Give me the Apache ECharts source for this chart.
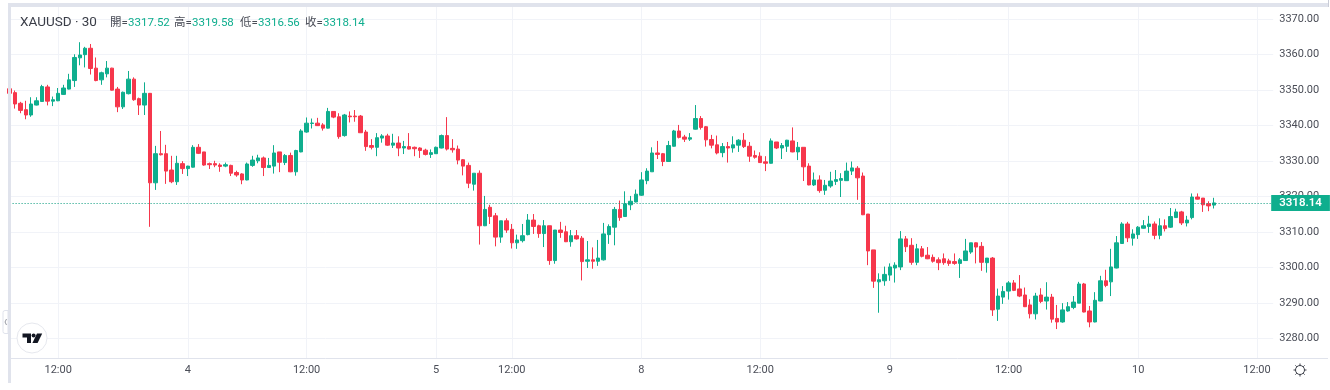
<!DOCTYPE html>
<html><head><meta charset="utf-8">
<style>html,body{margin:0;padding:0;background:#fff}#c{width:1330px;height:390px}</style>
<script src="https://cdn.jsdelivr.net/npm/echarts@6/dist/echarts.min.js"></script>
</head><body><div id="c"></div>
<script>
const opens = [
3350.3,3349.2,3346.2,3344.4,3342.9,3345.7,3346.7,3350.8,3346.8,3346.9,
3348.7,3350.2,3352.6,3359.0,3359.9,3361.7,3356.1,3352.8,3354.5,3356.1,
3350.2,3345.2,3348.9,3353.0,3347.5,3345.7,3349.0,3323.8,3332.0,3332.0,
3327.4,3324.1,3329.2,3327.8,3328.2,3333.8,3332.5,3329.2,3329.2,3328.8,
3328.5,3328.7,3326.7,3326.3,3324.6,3328.7,3330.0,3330.8,3328.1,3328.5,
3332.5,3329.5,3331.5,3326.9,3332.5,3338.1,3340.5,3340.6,3340.1,3339.2,
3343.9,3342.4,3337.1,3342.6,3342.6,3342.6,3338.1,3334.3,3333.8,3336.4,
3337.0,3334.4,3335.0,3333.6,3334.0,3333.8,3333.6,3333.0,3331.8,3332.0,
3333.6,3337.1,3333.5,3333.3,3330.3,3328.7,3323.4,3326.5,3311.7,3316.9,
3314.5,3308.5,3313.1,3310.7,3306.9,3307.5,3309.2,3313.3,3311.7,3309.5,
3311.7,3301.9,3310.5,3310.0,3307.2,3308.9,3308.2,3301.7,3302.1,3301.7,
3302.1,3309.2,3311.3,3316.3,3314.3,3317.6,3318.4,3320.3,3324.4,3326.9,
3332.2,3332.0,3329.8,3334.1,3338.4,3336.7,3336.1,3338.9,3341.9,3339.6,
3336.0,3334.5,3332.3,3334.0,3333.6,3334.4,3335.8,3334.1,3331.5,3331.3,
3329.7,3329.3,3335.3,3333.6,3334.1,3335.6,3332.5,3333.8,3328.5,3323.2,
3324.6,3321.7,3322.9,3324.2,3324.5,3324.4,3327.1,3327.9,3325.7,3315.0,
3304.9,3295.9,3296.2,3297.8,3299.8,3300.1,3308.0,3306.2,3301.4,3305.2,
3303.4,3302.8,3302.1,3302.4,3301.8,3301.6,3301.1,3301.9,3304.3,3306.9,
3305.9,3301.3,3302.6,3288.2,3291.6,3293.3,3295.6,3293.9,3292.2,3289.4,
3286.9,3292.2,3290.5,3291.6,3285.6,3284.6,3287.7,3288.7,3289.9,3295.3,
3287.7,3284.6,3290.5,3296.2,3295.9,3299.8,3306.7,3312.2,3308.2,3309.2,
3311.0,3311.5,3312.2,3309.0,3311.7,3311.3,3314.0,3315.6,3312.5,3314.0,
3319.8,3319.5,3317.9,3317.52];
const closes = [
3349.0,3346.0,3344.2,3342.9,3346.0,3346.9,3350.9,3346.8,3347.2,3349.0,
3350.5,3352.8,3359.1,3359.8,3361.7,3356.0,3352.6,3354.8,3356.1,3349.9,
3345.2,3349.3,3353.0,3347.2,3345.7,3349.0,3323.8,3332.0,3331.7,3327.1,
3324.1,3329.3,3327.8,3328.5,3333.8,3332.1,3328.8,3328.9,3328.8,3328.4,
3328.9,3326.5,3326.0,3324.6,3329.1,3330.2,3330.8,3328.1,3328.7,3332.2,
3329.6,3331.5,3326.9,3332.9,3338.4,3340.6,3340.65,3339.9,3339.2,3343.9,
3342.3,3336.8,3342.9,3342.4,3342.4,3337.9,3334.0,3333.8,3336.5,3337.0,
3334.4,3335.0,3333.6,3334.0,3333.3,3333.4,3332.9,3331.8,3332.3,3333.8,
3337.1,3333.3,3333.1,3330.2,3328.5,3323.7,3326.5,3311.7,3316.3,3314.3,
3308.5,3313.1,3310.5,3306.9,3307.7,3308.9,3313.3,3311.5,3309.5,3311.7,
3301.9,3310.5,3309.8,3307.2,3308.9,3308.0,3301.6,3302.1,3301.7,3302.6,
3309.4,3311.5,3316.3,3314.0,3317.9,3318.6,3320.6,3324.6,3327.1,3332.2,
3331.8,3329.8,3334.3,3338.4,3336.6,3336.1,3336.5,3341.9,3339.4,3335.9,
3334.4,3332.2,3334.0,3333.6,3334.5,3335.8,3334.0,3331.3,3331.0,3329.5,
3329.3,3335.6,3333.6,3334.3,3335.8,3332.5,3333.8,3328.3,3323.2,3324.6,
3321.6,3323.1,3324.3,3324.7,3325.0,3327.1,3328.0,3325.2,3314.8,3304.6,
3296.1,3296.5,3298.0,3300.1,3300.6,3308.0,3305.8,3301.4,3305.2,3303.1,
3302.4,3301.7,3301.3,3301.3,3301.1,3301.1,3302.1,3304.6,3306.9,3305.7,
3301.4,3302.6,3288.0,3291.9,3293.2,3295.6,3293.5,3291.9,3288.9,3286.9,
3291.9,3290.4,3291.6,3285.4,3284.6,3288.0,3288.9,3290.2,3295.3,3287.4,
3284.6,3290.7,3296.2,3294.9,3300.1,3306.9,3312.2,3308.3,3309.4,3311.3,
3311.7,3312.2,3309.0,3311.7,3310.9,3314.3,3315.6,3312.5,3313.3,3319.8,
3319.2,3317.6,3317.3,3318.14];
const lows = [
3348.9,3344.7,3343.4,3341.7,3342.4,3345.6,3346.6,3345.6,3345.4,3346.8,
3348.6,3350.1,3350.8,3356.9,3356.3,3354.3,3352.4,3351.4,3353.5,3349.8,
3343.7,3344.6,3348.7,3346.9,3342.9,3342.9,3311.4,3321.8,3331.5,3323.5,
3323.7,3323.2,3326.3,3325.7,3328.1,3331.9,3328.6,3327.7,3328.2,3326.9,
3328.2,3325.7,3325.5,3323.4,3324.5,3328.3,3329.3,3325.7,3328.0,3326.4,
3326.8,3328.8,3326.8,3325.8,3332.4,3337.9,3339.1,3339.8,3338.5,3339.1,
3342.0,3336.2,3336.8,3340.8,3341.0,3337.9,3332.8,3333.2,3331.3,3335.1,
3334.2,3333.6,3331.3,3331.9,3333.2,3331.3,3330.8,3331.5,3330.8,3332.0,
3333.5,3332.9,3332.3,3329.0,3325.9,3322.3,3321.6,3306.4,3311.6,3312.2,
3305.9,3306.9,3309.7,3305.3,3305.2,3307.0,3309.0,3309.4,3308.3,3305.7,
3300.7,3301.0,3308.3,3307.1,3305.8,3307.8,3296.3,3299.8,3299.6,3300.4,
3301.9,3306.6,3306.2,3313.1,3314.2,3316.1,3318.3,3320.1,3323.4,3326.9,
3330.5,3328.5,3329.7,3334.0,3336.3,3335.3,3335.6,3338.8,3338.8,3334.0,
3333.5,3331.8,3331.0,3329.5,3332.3,3332.5,3333.6,3329.7,3330.6,3329.4,
3327.1,3329.2,3333.3,3330.5,3332.5,3332.4,3330.2,3324.3,3323.1,3322.9,
3321.0,3320.4,3322.4,3323.2,3319.8,3324.3,3326.0,3319.0,3314.7,3300.6,
3294.2,3287.2,3294.8,3296.2,3295.7,3299.2,3304.3,3300.7,3300.6,3302.8,
3302.3,3301.3,3299.2,3300.7,3300.4,3300.7,3297.0,3301.8,3303.8,3301.1,
3299.0,3298.5,3286.3,3284.9,3289.7,3290.9,3293.3,3291.6,3288.8,3285.6,
3285.3,3289.9,3288.1,3284.4,3282.6,3284.4,3287.5,3288.2,3289.9,3287.3,
3283.1,3284.5,3290.4,3294.4,3291.9,3299.7,3306.6,3307.1,3306.1,3308.0,
3310.9,3309.7,3307.9,3307.9,3310.1,3311.1,3313.9,3311.9,3311.5,3313.5,
3319.1,3315.6,3315.8,3316.56];
const highs = [
3350.4,3349.8,3346.6,3346.9,3347.9,3347.9,3351.4,3351.4,3348.1,3350.5,
3351.4,3354.5,3360.0,3363.4,3362.1,3362.9,3359.1,3355.1,3358.1,3356.2,
3350.8,3349.5,3355.3,3353.5,3347.8,3352.1,3349.1,3334.2,3338.4,3334.5,
3331.4,3331.4,3329.9,3328.6,3334.4,3334.7,3332.5,3329.5,3330.0,3329.3,
3329.5,3328.9,3327.2,3326.5,3329.5,3331.4,3331.7,3331.2,3330.8,3334.4,
3332.5,3331.9,3332.3,3333.1,3338.9,3342.2,3341.9,3342.1,3340.6,3344.9,
3343.9,3343.4,3343.2,3343.9,3344.3,3342.9,3338.7,3336.1,3337.8,3337.5,
3337.6,3337.6,3336.9,3335.6,3337.8,3334.0,3333.8,3333.4,3333.2,3334.0,
3337.4,3342.3,3336.1,3334.3,3330.5,3329.5,3326.5,3327.3,3320.1,3317.6,
3315.3,3313.1,3313.8,3312.2,3309.2,3312.2,3315.0,3315.0,3312.0,3313.3,
3311.7,3310.5,3312.8,3311.7,3310.5,3310.5,3308.8,3307.4,3305.6,3307.7,
3312.5,3312.1,3317.0,3318.8,3321.4,3320.1,3321.9,3326.8,3327.9,3333.8,
3335.6,3332.2,3335.6,3338.7,3340.1,3337.3,3337.8,3345.7,3342.6,3339.8,
3337.3,3337.1,3335.0,3335.3,3336.9,3336.1,3337.8,3335.3,3332.9,3332.4,
3331.3,3336.3,3335.3,3335.0,3335.9,3339.4,3335.3,3333.8,3329.3,3326.7,
3325.9,3324.6,3326.9,3327.4,3326.5,3329.5,3329.8,3328.5,3326.7,3315.0,
3304.9,3298.3,3300.2,3301.1,3301.4,3310.2,3308.8,3308.2,3306.6,3306.0,
3305.7,3303.6,3302.8,3303.9,3302.4,3303.9,3302.6,3308.0,3306.9,3307.0,
3307.1,3302.6,3302.9,3294.0,3294.7,3296.1,3296.4,3297.8,3294.3,3291.0,
3292.8,3294.1,3295.8,3292.5,3289.4,3289.9,3290.2,3291.9,3295.9,3295.6,
3289.1,3293.0,3297.6,3299.3,3305.2,3308.8,3312.7,3312.8,3310.7,3311.6,
3313.3,3314.5,3312.9,3313.8,3313.5,3316.7,3316.5,3315.9,3314.5,3320.8,
3320.8,3319.5,3318.6,3319.58];
const tickBars   = [9,33,55,79,93,117,139,163,185,209,231];
const tickLabels = ['12:00','4','12:00','5','12:00','8','12:00','9','12:00','10','12:00'];
const barSlots = 235;
const lastClose = 3318.14;
const symbolText = 'XAUUSD · 30';
const headerKeys = ['開=','高=','低=','收='];
const headerVals = ['3317.52','3319.58','3316.56','3318.14'];

const GREEN='#0fae8e', RED='#f6374c', BAND='#e0e3ec', GRID='#f1f3f8', TXT='#4a4d57';
const FONT='Roboto, "Noto Sans CJK TC", sans-serif';
const categories = [];
for (let i=0;i<barSlots;i++){ const k=tickBars.indexOf(i); categories.push(k>=0?tickLabels[k]:''); }
const candles = opens.map((o,i)=>[o,closes[i],lows[i],highs[i]]);
const isTick = (i,v)=>v!=='';

const headerX=[110,174,240,305];
const headerG=[{type:'text',left:20,top:16,z:20,style:{text:symbolText,font:'13.5px '+FONT,fill:'#3a3d47'}}];
headerKeys.forEach((k,i)=>{
  headerG.push({type:'text',left:headerX[i],top:17,z:20,style:{text:k,font:'11.5px '+FONT,fill:TXT}});
  headerG.push({type:'text',left:headerX[i]+18,top:17,z:20,style:{text:headerVals[i],font:'11.5px '+FONT,fill:GREEN}});
});
const chrome=[
 {type:'rect',z:30,shape:{x:8,y:3,width:1320,height:4},style:{fill:BAND}},
 {type:'rect',z:30,shape:{x:8,y:3,width:3,height:380},style:{fill:BAND}},
 {type:'rect',z:30,shape:{x:1328,y:0,width:1,height:7},style:{fill:'#c9ccd6'}},
 {type:'rect',z:30,shape:{x:1272,y:358,width:56,height:1},style:{fill:BAND}},
 {type:'rect',z:30,shape:{x:3,y:310.5,width:5,height:23,r:[2,0,0,2]},style:{fill:'#fff',stroke:BAND,lineWidth:1}},
 {type:'polyline',z:31,shape:{points:[[6.5,319],[5,322],[6.5,325]]},style:{fill:null,stroke:'#9598a1',lineWidth:1}},
 {type:'circle',z:30,shape:{cx:32,cy:338,r:15},style:{fill:'#fff',stroke:'#e6e8ee',lineWidth:1}},
 {type:'polygon',z:31,shape:{points:[[22.5,333.5],[31,333.5],[31,343],[27,343],[27,337.5],[22.5,337.5]]},style:{fill:'#131722'}},
 {type:'circle',z:31,shape:{cx:33.6,cy:335.6,r:2},style:{fill:'#131722'}},
 {type:'polygon',z:31,shape:{points:[[37,333.5],[42.2,333.5],[37.6,343],[32.4,343]]},style:{fill:'#131722'}},
 {type:'circle',z:31,shape:{cx:1300,cy:370,r:4.5},style:{fill:'#fff',stroke:'#3c3f49',lineWidth:1}}
];
[[0,-6.5,0,-4.5],[0,4.5,0,6.5],[-6.5,0,-4.5,0],[4.5,0,6.5,0],[-4.6,-4.6,-3.2,-3.2],[3.2,3.2,4.6,4.6],[-4.6,4.6,-3.2,3.2],[3.2,-3.2,4.6,-4.6]].forEach(d=>{
  chrome.push({type:'line',z:31,shape:{x1:1300+d[0],y1:370+d[1],x2:1300+d[2],y2:370+d[3]},style:{stroke:'#3c3f49',lineWidth:1}});
});

const chart=echarts.init(document.getElementById('c'),null,{renderer:'canvas'});
chart.setOption({
 animation:false,
 backgroundColor:'#fff',
 grid:{left:9.6,top:7,width:1263.6,height:351,containLabel:false},
 xAxis:{type:'category',data:categories,boundaryGap:false,
  axisLine:{lineStyle:{color:BAND,width:1}},axisTick:{show:false},
  axisLabel:{interval:isTick,margin:7,fontFamily:FONT,fontSize:11,color:TXT,hideOverlap:false},
  splitLine:{show:true,interval:isTick,lineStyle:{color:GRID,width:1}}},
 yAxis:{type:'value',position:'right',scale:true,min:3274.45,max:3373.32,splitNumber:10,
  axisLine:{show:false},axisTick:{show:false},
  axisLabel:{margin:6,fontFamily:FONT,fontSize:11,color:TXT,padding:[4,0,0,0],showMinLabel:false,showMaxLabel:false,
   formatter:v=>Number.isInteger(v)?v.toFixed(2):''},
  splitLine:{show:true,showMinLine:false,showMaxLine:false,lineStyle:{color:GRID,width:1}}},
 series:[{type:'candlestick',data:candles,barWidth:4,clip:true,
  itemStyle:{color:GREEN,color0:RED,borderColor:GREEN,borderColor0:RED,borderWidth:1},
  markLine:{silent:true,symbol:'none',animation:false,
   lineStyle:{color:'#069a7c',type:[1,2],width:1,opacity:1},
   label:{show:true,position:'end',distance:-2,formatter:()=>lastClose.toFixed(2),fontFamily:FONT,fontSize:11.5,fontWeight:600,color:'#fff',
     backgroundColor:GREEN,padding:[2,8,2,8],lineHeight:12},
   data:[{yAxis:lastClose}]}}],
 graphic:{elements:headerG.concat(chrome)}
});
</script></body></html>
